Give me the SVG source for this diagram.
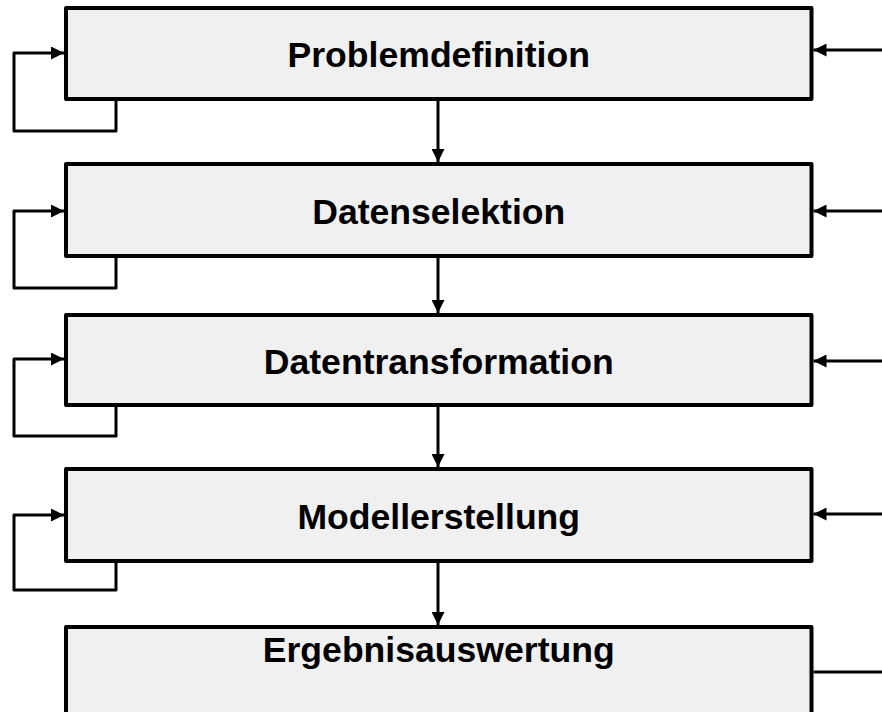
<svg xmlns="http://www.w3.org/2000/svg" width="882" height="712" viewBox="0 0 882 712">
  <style>
    .box { fill: #f0f0f0; stroke: #000; stroke-width: 4; stroke-linejoin: round; }
    .label { font-family: "Liberation Sans", Arial, sans-serif; font-weight: bold; font-size: 35.6px; fill: #000; text-anchor: middle; }
    .wire { fill: none; stroke: #000; stroke-width: 3; stroke-linejoin: round; }
  </style>
  <defs>
    <marker id="arrow" viewBox="0 0 12 12" refX="12" refY="6" markerWidth="13" markerHeight="13" markerUnits="userSpaceOnUse" orient="auto">
      <path d="M0,0 L12,6 L0,12 Z" fill="#000"/>
    </marker>
  </defs>
  <rect width="882" height="712" fill="#fff"/>

  <!-- process steps -->
  <g id="problemdefinition">
    <rect class="box" x="66" y="8" width="745.5" height="91"/>
    <text class="label" x="438.75" y="67">Problemdefinition</text>
  </g>
  <g id="datenselektion">
    <rect class="box" x="66" y="164" width="745.5" height="92"/>
    <text class="label" x="438.75" y="224">Datenselektion</text>
  </g>
  <g id="datentransformation">
    <rect class="box" x="66" y="315" width="745.5" height="90"/>
    <text class="label" x="438.75" y="374">Datentransformation</text>
  </g>
  <g id="modellerstellung">
    <rect class="box" x="66" y="469" width="745.5" height="92"/>
    <text class="label" x="438.75" y="529">Modellerstellung</text>
  </g>
  <g id="ergebnisauswertung">
    <rect class="box" x="66" y="627" width="745.5" height="92"/>
    <text class="label" x="438.75" y="662">Ergebnisauswertung</text>
  </g>

  <!-- connectors -->
  <g id="connectors">
    <!-- downward flow -->
    <line class="wire" x1="438" y1="101" x2="438" y2="162" marker-end="url(#arrow)"/>
    <line class="wire" x1="438" y1="258" x2="438" y2="313" marker-end="url(#arrow)"/>
    <line class="wire" x1="438" y1="407" x2="438" y2="467" marker-end="url(#arrow)"/>
    <line class="wire" x1="438" y1="563" x2="438" y2="625" marker-end="url(#arrow)"/>

    <!-- self loops on the left -->
    <path class="wire" d="M116,101 V131 H14 V53 H64" marker-end="url(#arrow)"/>
    <path class="wire" d="M116,258 V288 H14 V211 H64" marker-end="url(#arrow)"/>
    <path class="wire" d="M116,407 V436 H14 V359 H64" marker-end="url(#arrow)"/>
    <path class="wire" d="M116,563 V590 H14 V515 H64" marker-end="url(#arrow)"/>

    <!-- feedback from the right -->
    <line class="wire" x1="882" y1="50" x2="813.5" y2="50" marker-end="url(#arrow)"/>
    <line class="wire" x1="882" y1="211" x2="813.5" y2="211" marker-end="url(#arrow)"/>
    <line class="wire" x1="882" y1="361" x2="813.5" y2="361" marker-end="url(#arrow)"/>
    <line class="wire" x1="882" y1="514" x2="813.5" y2="514" marker-end="url(#arrow)"/>
    <line class="wire" x1="882" y1="672" x2="813.5" y2="672"/>
  </g>
</svg>
